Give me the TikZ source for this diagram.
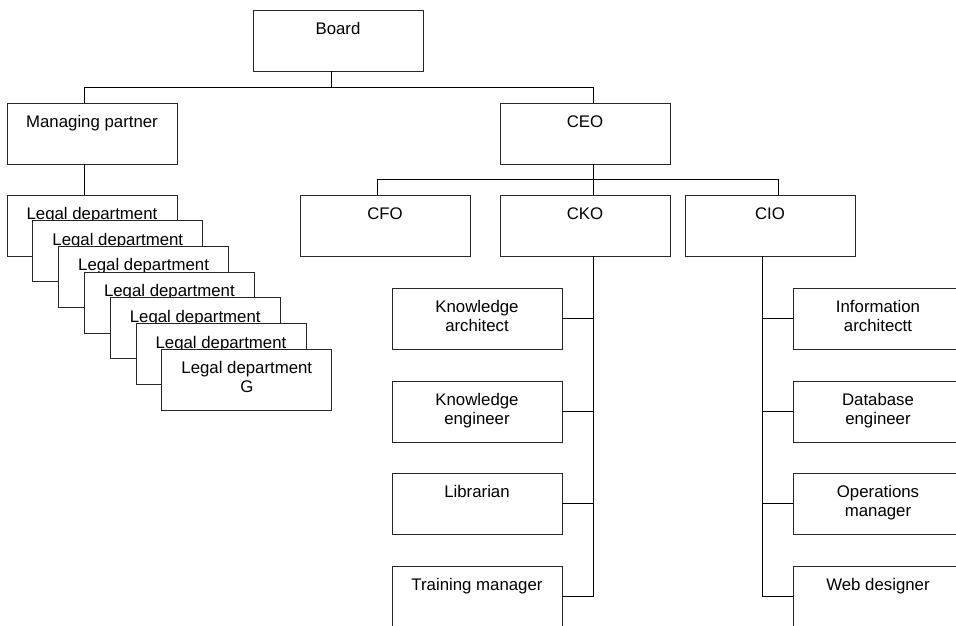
\documentclass[tikz,border=0pt]{standalone}
\usepackage{fontspec}
\setmainfont{Liberation Sans}
\usetikzlibrary{calc}

% box content: text hung from the top edge of a fixed-size frame
\newcommand{\orgtext}[1]{\parbox[t][61pt][t]{170pt}{\centering\fontsize{16.8}{19}\selectfont\rule{0pt}{24.5pt}#1}}

\tikzset{
  orgbox/.style={draw=black!85, line width=0.9pt, fill=white, inner sep=0pt, outer sep=0pt, anchor=north west},
  link/.style={draw=black, line width=0.9pt}
}

\begin{document}
\begin{tikzpicture}[x=1pt, y=-1pt]
\useasboundingbox (0,0) rectangle (956,625);
\clip (0,0) rectangle (956,625);

% top levels
\node[orgbox] (board) at (253,10)  {\orgtext{Board}};
\node[orgbox] (mp)    at (7,103)   {\orgtext{Managing partner}};
\node[orgbox] (ceo)   at (500,103) {\orgtext{CEO}};
\node[orgbox] (cfo)   at (300,195) {\orgtext{CFO}};
\node[orgbox] (cko)   at (500,195) {\orgtext{CKO}};
\node[orgbox] (cio)   at (685,195) {\orgtext{CIO}};

% knowledge staff
\node[orgbox] (ka)  at (392,288) {\orgtext{Knowledge\\architect}};
\node[orgbox] (ke)  at (392,381) {\orgtext{Knowledge\\engineer}};
\node[orgbox] (lib) at (392,473) {\orgtext{Librarian}};
\node[orgbox] (tm)  at (392,566) {\orgtext{Training manager}};

% information staff
\node[orgbox] (ia) at (793,288) {\orgtext{Information\\architectt}};
\node[orgbox] (de) at (793,381) {\orgtext{Database\\engineer}};
\node[orgbox] (om) at (793,473) {\orgtext{Operations\\manager}};
\node[orgbox] (wd) at (793,566) {\orgtext{Web designer}};

% bus lines
\coordinate (busL) at (84,87);
\coordinate (busR) at (593,87);
\coordinate (midL) at (377,179);
\coordinate (midR) at (778,179);
\coordinate (cioT) at ([xshift=-8]cio.south);

\draw[link] (busL) -- (busR);
\draw[link] ([xshift=-7]board.south) -- ([xshift=-7]board.south |- busL);
\draw[link] (mp.north -| busL) -- (busL);
\draw[link] (ceo.north -| busR) -- (busR);

\draw[link] (midL) -- (midR);
\draw[link] (ceo.south -| busR) -- (cko.north -| busR);
\draw[link] (cfo.north -| midL) -- (midL);
\draw[link] (cio.north -| midR) -- (midR);

% knowledge branch
\draw[link] (cko.south -| busR) |- (tm.east);
\foreach \n in {ka,ke,lib} \draw[link] (\n.east) -- (\n.east -| busR);

% information branch
\draw[link] (cioT) |- (wd.west);
\foreach \n in {ia,de,om} \draw[link] (\n.west) -- (\n.west -| cioT);

% legal departments, stacked
\draw[link] (mp.south -| busL) -- (84,195);
\foreach \k in {0,...,5}
  \node[orgbox] (legal\k) at ({7+25.8*\k},{195+25.7*\k}) {\orgtext{Legal department}};
\node[orgbox] (legal6) at ({7+25.8*6},{195+25.7*6}) {\orgtext{Legal department\\G}};

\end{tikzpicture}
\end{document}
